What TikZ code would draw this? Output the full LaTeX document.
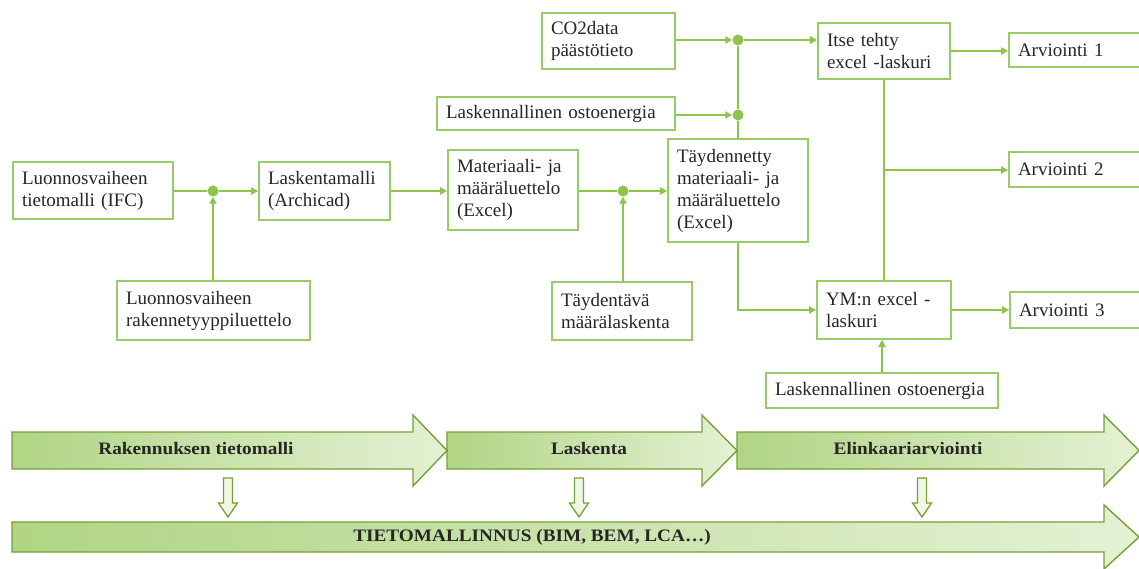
\documentclass[tikz,border=0pt]{standalone}
\usepackage{fontspec}
\setmainfont{Liberation Serif}
\newfontfamily\arrowfont{Liberation Serif}[FakeStretch=1.1]
\usetikzlibrary{arrows.meta,calc}
\definecolor{lngreen}{RGB}{141,196,74}
\definecolor{boxgreen}{RGB}{152,204,104}
\definecolor{arrowline}{RGB}{118,160,56}
\definecolor{fillA}{RGB}{176,213,132}
\definecolor{fillB}{RGB}{228,241,212}
\definecolor{txt}{RGB}{38,38,38}
\tikzset{
  box/.style={draw=boxgreen, line width=1.6pt, fill=white, inner xsep=9pt, inner ysep=2pt,
              align=left, text=txt, font=\fontsize{19}{22}\selectfont},
  ln/.style={draw=lngreen, line width=2pt},
  arr/.style={-{Triangle[length=7pt,width=7pt]}},
  jdot/.style={circle, fill=lngreen, inner sep=0pt, minimum size=11pt},
  bigarrow/.style={draw=arrowline, line width=1.4pt, left color=fillA, right color=fillB, line join=miter},
  smallarrow/.style={draw=arrowline, line width=1.3pt, fill=fillB!60!white, line join=miter},
  bigtxt/.style={font=\arrowfont\bfseries\fontsize{17.5}{20}\selectfont, text=txt}
}
\begin{document}
\begin{tikzpicture}[x=1pt,y=-1pt]
\useasboundingbox[fill=white] (0,0) rectangle (1139,569);

% boxes
\node[box, minimum width=160pt, minimum height=57pt, text width=142pt] (ifc) at (93,190.5) {Luonnosvaiheen\\tietomalli (IFC)};
\node[box, minimum width=131pt, minimum height=58pt, text width=113pt] (arch) at (324.5,191) {Laskentamalli\\(Archicad)};
\node[box, minimum width=193pt, minimum height=59pt, text width=175pt] (rty) at (213.5,310.5) {Luonnosvaiheen\\rakennetyyppiluettelo};
\node[box, minimum width=130pt, minimum height=80pt, text width=112pt] (mat) at (513,190) {Materiaali- ja\\määräluettelo\\(Excel)};
\node[box, minimum width=140pt, minimum height=58pt, text width=122pt] (tdl) at (622,311) {Täydentävä\\määrälaskenta};
\node[box, minimum width=133pt, minimum height=56pt, text width=115pt] (co2) at (608.5,41) {CO2data\\päästötieto};
\node[box, minimum width=238pt, minimum height=33pt, text width=220pt] (oe1) at (556,113.5) {Laskennallinen ostoenergia};
\node[box, minimum width=140pt, minimum height=103pt, text width=122pt] (tmm) at (738,190.5) {Täydennetty\\materiaali- ja\\määräluettelo\\(Excel)};
\node[box, minimum width=132pt, minimum height=56pt, text width=114pt] (itse) at (884,51) {Itse tehty\\excel -laskuri};
\node[box, minimum width=134pt, minimum height=58pt, text width=116pt] (ym) at (884,310) {YM:n excel -\\laskuri};
\node[box, minimum width=232pt, minimum height=35pt, text width=214pt] (oe2) at (882,390.5) {Laskennallinen ostoenergia};
\node[box, minimum width=136pt, minimum height=34pt, text width=118pt] (a1) at (1077,50) {Arviointi 1};
\node[box, minimum width=136pt, minimum height=35pt, text width=118pt] (a2) at (1077,169.5) {Arviointi 2};
\node[box, minimum width=136pt, minimum height=36pt, text width=118pt] (a3) at (1078,310) {Arviointi 3};

% junction dots
\node[jdot] (d1) at (213,191) {};
\node[jdot] (d2) at (623,191) {};
\node[jdot] (d3) at (738,40) {};
\node[jdot] (d4) at (738,115) {};

% connectors
\draw[ln] (ifc.east |- d1) -- (d1);
\draw[ln,arr] (d1) -- (arch.west |- d1);
\draw[ln,arr] (rty.north -| d1) -- (d1);
\draw[ln,arr] (arch.east) -- (arch.east -| mat.west);
\draw[ln] (mat.east |- d2) -- (d2);
\draw[ln,arr] (d2) -- (tmm.west |- d2);
\draw[ln,arr] (tdl.north -| d2) -- (d2);
\draw[ln,arr] (co2.east |- d3) -- (d3);
\draw[ln,arr] (d3) -- (itse.west |- d3);
\draw[ln,arr] (oe1.east |- d4) -- (d4);
\draw[ln] (tmm.north -| d4) -- (d4);
\draw[ln] (d4) -- (d3);
\draw[ln,arr] (tmm.south) |- (ym.west);
\draw[ln,arr] (itse.east) -- (itse.east -| a1.west);
\draw[ln] (itse.south) -- (itse.south |- ym.north);
\coordinate (br) at (itse.south |- 0,170);
\draw[ln,arr] (br) -- (br -| a2.west);
\draw[ln,arr] (ym.east) -- (ym.east -| a3.west);
\draw[ln,arr] (oe2.north) -- (oe2.north |- ym.south);

% big process arrows
\path[bigarrow] (737,432) -- (1104,432) -- (1104,415) -- (1139,450.5) -- (1104,486) -- (1104,469) -- (737,469) -- cycle;
\path[bigarrow] (447,432) -- (702,432) -- (702,415) -- (737,450.5) -- (702,486) -- (702,469) -- (447,469) -- cycle;
\path[bigarrow] (12,432) -- (413,432) -- (413,415) -- (447,450.5) -- (413,486) -- (413,469) -- (12,469) -- cycle;
\path[bigarrow] (12,522) -- (1104,522) -- (1104,505) -- (1139,537) -- (1104,569) -- (1104,552) -- (12,552) -- cycle;

\node[bigtxt] (t1) at (196,449) {Rakennuksen tietomalli};
\node[bigtxt] (t2) at (589,449) {Laskenta};
\node[bigtxt] (t3) at (908,449) {Elinkaariarviointi};
\node[bigtxt] (t4) at (532,537) {TIETOMALLINNUS (BIM, BEM, LCA…)};

% small hollow down arrows
\foreach \xx in {228,579,922}{
  \path[smallarrow] (\xx-4.5,478) -- (\xx+4.5,478) -- (\xx+4.5,503) -- (\xx+9.5,503) -- (\xx,517) -- (\xx-9.5,503) -- (\xx-4.5,503) -- cycle;
}
\end{tikzpicture}
\end{document}
